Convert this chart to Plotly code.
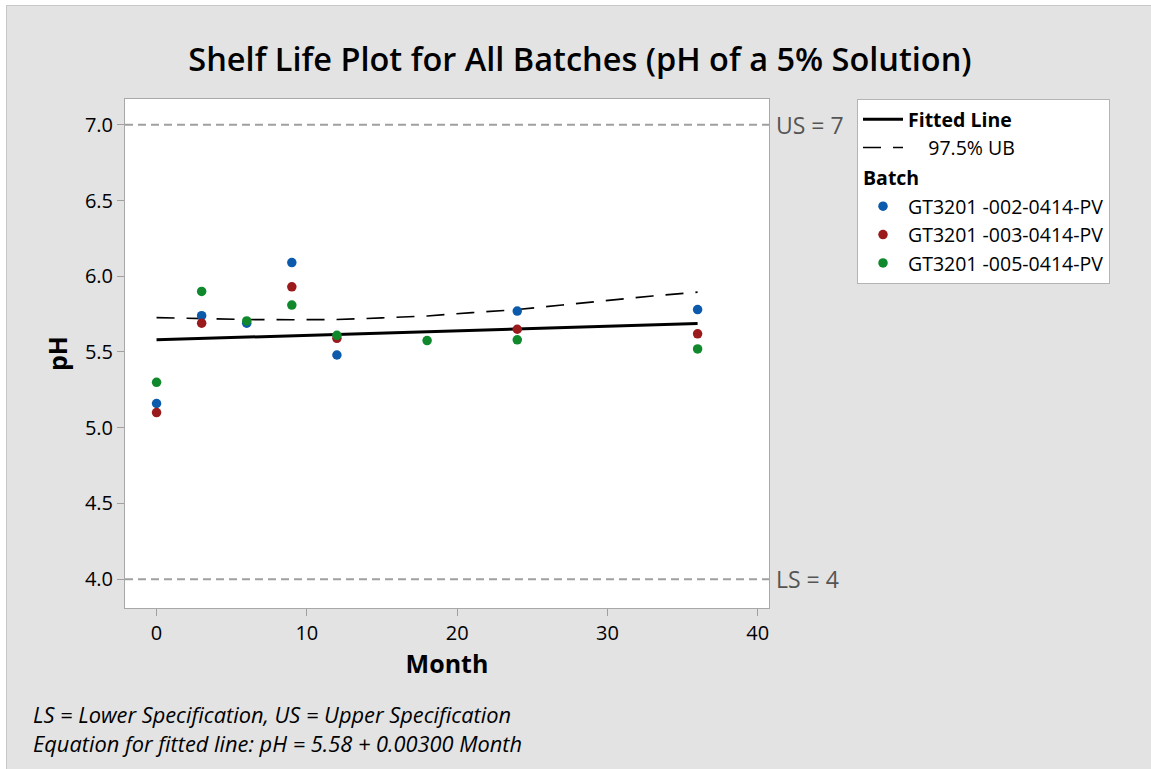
import plotly.graph_objects as go

# ---- data ----
batch_names = ["GT3201 -002-0414-PV", "GT3201 -003-0414-PV", "GT3201 -005-0414-PV"]
b002_month = [0, 3, 6, 9, 12, 24, 36]
b002_ph = [5.16, 5.74, 5.69, 6.09, 5.48, 5.77, 5.78]
b003_month = [0, 3, 9, 12, 24, 36]
b003_ph = [5.10, 5.69, 5.93, 5.59, 5.65, 5.62]
b005_month = [0, 3, 6, 9, 12, 18, 24, 36]
b005_ph = [5.30, 5.90, 5.705, 5.81, 5.61, 5.575, 5.58, 5.52]
batch_colors = ["#0b5aab", "#9b1a1c", "#10892c"]

fit_month = [0, 36]
fit_ph = [5.58, 5.688]
ub_month = [0, 3, 6, 9, 12, 15, 18, 21, 24, 27, 30, 33, 36]
ub_ph = [5.727, 5.72, 5.714, 5.713, 5.714, 5.725, 5.738, 5.76, 5.78, 5.81, 5.84, 5.87, 5.895]

spec_lower, spec_upper = 4, 7
y_ticks = [4.0, 4.5, 5.0, 5.5, 6.0, 6.5, 7.0]
x_ticks = [0, 10, 20, 30, 40]

FONT = "Open Sans"

fig = go.Figure()

fig.add_trace(go.Scatter(x=fit_month, y=fit_ph, mode="lines",
                         line=dict(color="black", width=3),
                         name="<b>Fitted Line</b>", legendgroup="fit",
                         legendrank=1))
fig.add_trace(go.Scatter(x=ub_month, y=ub_ph, mode="lines",
                         line=dict(color="black", width=1.6, dash="18px,12px"),
                         name="    97.5% UB", legendgroup="fit", legendrank=2))

batch_data = [(b002_month, b002_ph), (b003_month, b003_ph), (b005_month, b005_ph)]
for i, ((mx, py_), nm, col) in enumerate(zip(batch_data, batch_names, batch_colors)):
    fig.add_trace(go.Scatter(x=mx, y=py_, mode="markers",
                             marker=dict(color=col, size=9.5),
                             name=nm, legendgroup="batch",
                             legendgrouptitle=dict(text="<b>Batch</b>",
                                                   font=dict(size=19.5, color="black")) if i == 0 else None,
                             legendrank=3 + i))

# spec lines
for v in (spec_lower, spec_upper):
    fig.add_shape(type="line", xref="paper", x0=0, x1=1, yref="y", y0=v, y1=v,
                  line=dict(color="#a0a0a0", width=2, dash="8px,5px"))
fig.add_annotation(xref="paper", x=1.0, yref="y", y=spec_upper, text="US = 7",
                   showarrow=False, xanchor="left", xshift=5,
                   font=dict(size=23, color="#555555", family=FONT))
fig.add_annotation(xref="paper", x=1.0, yref="y", y=spec_lower, text="LS = 4",
                   showarrow=False, xanchor="left", xshift=5,
                   font=dict(size=23, color="#555555", family=FONT))

# layout geometry (pixels)
L, R, T, B = 125, 382, 99, 161
PW, PH = 1151 - L - R, 769 - T - B
def px(x):
    return (x - L) / PW
def py(y):
    return (769 - B - y) / PH

# footer
fig.add_annotation(xref="paper", yref="paper", x=px(31), y=py(715),
                   text="<i>LS = Lower Specification, US = Upper Specification</i>",
                   showarrow=False, xanchor="left", yanchor="middle",
                   font=dict(size=21.8, color="black", family=FONT))
fig.add_annotation(xref="paper", yref="paper", x=px(31), y=py(743),
                   text="<i>Equation for fitted line: pH = 5.58 + 0.00300 Month</i>",
                   showarrow=False, xanchor="left", yanchor="middle",
                   font=dict(size=21.8, color="black", family=FONT))

# outer frame: white strips at top/left and border lines
fig.add_shape(type="rect", xref="paper", yref="paper", x0=px(0), x1=px(6), y0=py(769), y1=py(0),
              fillcolor="white", line=dict(width=0), layer="above")
fig.add_shape(type="rect", xref="paper", yref="paper", x0=px(0), x1=px(1151), y0=py(5), y1=py(0),
              fillcolor="white", line=dict(width=0), layer="above")
fig.add_shape(type="line", xref="paper", yref="paper", x0=px(6), x1=px(1151), y0=py(5.5), y1=py(5.5),
              line=dict(color="#c8c8c8", width=1))
fig.add_shape(type="line", xref="paper", yref="paper", x0=px(6.5), x1=px(6.5), y0=py(5), y1=py(769),
              line=dict(color="#c8c8c8", width=1))

fig.update_layout(
    width=1151, height=769,
    margin=dict(l=L, r=R, t=T, b=B),
    paper_bgcolor="#e3e3e3", plot_bgcolor="white",
    font=dict(family=FONT, color="black", size=19),
    title=dict(text="Shelf Life Plot for All Batches (pH of a 5% Solution)",
               x=px(580), xanchor="center", xref="paper",
               y=1 - 60 / 769, yanchor="middle",
               font=dict(size=32.5, color="black", family=FONT, weight=600)),
    xaxis=dict(range=[-2.1, 40.75], tickvals=x_ticks, ticks="outside", ticklen=7,
               tickcolor="#a0a0a0", showgrid=False, zeroline=False,
               showline=True, linecolor="#a8a8a8", mirror=True, linewidth=1,
               tickfont=dict(size=20, weight=500),
               title=dict(text="<b>Month</b>", font=dict(size=25), standoff=10)),
    yaxis=dict(range=[3.81, 7.17], tickvals=y_ticks, tickformat=".1f",
               ticks="outside", ticklen=7,
               tickcolor="#a0a0a0", showgrid=False, zeroline=False,
               showline=True, linecolor="#a8a8a8", mirror=True, linewidth=1,
               tickfont=dict(size=20, weight=500),
               title=dict(text="<b>pH</b>", font=dict(size=25), standoff=10)),
    legend=dict(x=px(857), xanchor="left", y=1.0, yanchor="top",
                bgcolor="white", bordercolor="#b4b4b4", borderwidth=1,
                font=dict(size=19.5, color="black"), traceorder="grouped",
                tracegroupgap=2, itemwidth=40),
    showlegend=True,
)

fig.write_html("out.html",
               post_script="document.body.style.margin='0';document.body.style.overflow='hidden';",
               config={"displayModeBar": False})
